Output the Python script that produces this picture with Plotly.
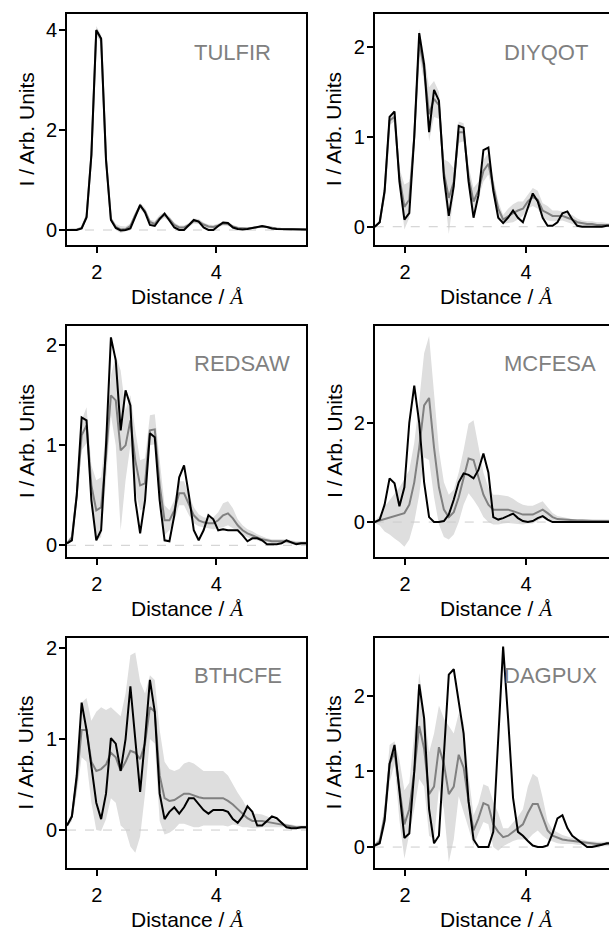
import plotly.graph_objects as go

# ---------------- data ----------------
distance = [1.500, 1.582, 1.663, 1.745, 1.827, 1.908, 1.990, 2.071, 2.153, 2.235,
            2.316, 2.398, 2.480, 2.561, 2.643, 2.724, 2.806, 2.888, 2.969, 3.051,
            3.133, 3.214, 3.296, 3.378, 3.459, 3.541, 3.622, 3.704, 3.786, 3.867,
            3.949, 4.031, 4.112, 4.194, 4.276, 4.357, 4.439, 4.520, 4.602, 4.684,
            4.765, 4.847, 4.929, 5.010, 5.092, 5.173, 5.255, 5.337, 5.418, 5.500]

names = ["TULFIR", "DIYQOT", "REDSAW", "MCFESA", "BTHCFE", "DAGPUX"]

tulfir_obs = [0.00, 0.00, 0.00, 0.03, 0.25, 1.50, 4.00, 3.83, 1.40, 0.20,
              0.04, -0.01, 0.00, 0.03, 0.25, 0.50, 0.35, 0.10, 0.08, 0.22,
              0.33, 0.20, 0.05, 0.00, 0.00, 0.10, 0.20, 0.17, 0.05, 0.00,
              0.00, 0.08, 0.15, 0.14, 0.05, 0.02, 0.01, 0.02, 0.04, 0.07,
              0.08, 0.06, 0.03, 0.02, 0.02, 0.02, 0.015, 0.01, 0.01, 0.01]
tulfir_mean = [0.00, 0.00, 0.01, 0.04, 0.27, 1.50, 3.98, 3.82, 1.42, 0.22,
               0.06, 0.01, 0.02, 0.08, 0.30, 0.48, 0.38, 0.16, 0.12, 0.24,
               0.30, 0.22, 0.10, 0.05, 0.05, 0.10, 0.18, 0.17, 0.11, 0.07,
               0.06, 0.09, 0.13, 0.12, 0.07, 0.04, 0.03, 0.03, 0.04, 0.06,
               0.07, 0.06, 0.04, 0.03, 0.02, 0.02, 0.02, 0.01, 0.01, 0.01]
tulfir_std = [0.01, 0.01, 0.01, 0.02, 0.04, 0.06, 0.10, 0.08, 0.06, 0.05,
              0.06, 0.07, 0.05, 0.05, 0.06, 0.06, 0.06, 0.05, 0.06, 0.06,
              0.06, 0.05, 0.05, 0.04, 0.04, 0.04, 0.05, 0.05, 0.04, 0.04,
              0.04, 0.04, 0.04, 0.04, 0.03, 0.03, 0.02, 0.02, 0.02, 0.02,
              0.02, 0.02, 0.02, 0.01, 0.01, 0.01, 0.01, 0.01, 0.01, 0.01]

diyqot_obs = [0.00, 0.05, 0.40, 1.22, 1.28, 0.50, 0.08, 0.15, 1.00, 2.15,
              1.80, 1.05, 1.52, 1.40, 0.55, 0.12, 0.45, 1.12, 1.10, 0.50,
              0.10, 0.35, 0.85, 0.88, 0.40, 0.10, 0.04, 0.10, 0.18, 0.10,
              0.05, 0.20, 0.37, 0.28, 0.10, 0.01, 0.01, 0.05, 0.15, 0.17,
              0.08, 0.01, 0.00, 0.00, 0.00, 0.00, 0.00, 0.01, 0.01, 0.02]
diyqot_mean = [0.00, 0.05, 0.38, 1.18, 1.22, 0.55, 0.22, 0.30, 1.00, 2.05,
               1.75, 1.25, 1.42, 1.35, 0.60, 0.32, 0.50, 1.05, 1.05, 0.55,
               0.28, 0.40, 0.62, 0.70, 0.45, 0.20, 0.08, 0.12, 0.15, 0.18,
               0.20, 0.28, 0.33, 0.30, 0.18, 0.15, 0.12, 0.12, 0.12, 0.10,
               0.08, 0.05, 0.04, 0.03, 0.03, 0.02, 0.02, 0.02, 0.02, 0.02]
diyqot_std = [0.01, 0.02, 0.05, 0.05, 0.05, 0.10, 0.25, 0.20, 0.10, 0.15,
              0.15, 0.30, 0.20, 0.15, 0.15, 0.40, 0.15, 0.12, 0.10, 0.12,
              0.15, 0.10, 0.12, 0.12, 0.10, 0.08, 0.05, 0.08, 0.10, 0.10,
              0.08, 0.08, 0.10, 0.10, 0.08, 0.08, 0.06, 0.06, 0.05, 0.05,
              0.05, 0.04, 0.03, 0.03, 0.03, 0.03, 0.03, 0.02, 0.02, 0.02]

redsaw_obs = [0.02, 0.05, 0.50, 1.28, 1.25, 0.45, 0.05, 0.15, 1.00, 2.08,
              1.85, 1.15, 1.55, 1.40, 0.45, 0.12, 0.45, 1.12, 1.08, 0.45,
              0.05, 0.04, 0.30, 0.68, 0.80, 0.50, 0.15, 0.05, 0.15, 0.30,
              0.26, 0.15, 0.16, 0.15, 0.15, 0.15, 0.10, 0.04, 0.07, 0.07,
              0.05, 0.01, 0.01, 0.01, 0.02, 0.05, 0.03, 0.01, 0.02, 0.02]
redsaw_mean = [0.02, 0.08, 0.50, 1.10, 1.20, 0.60, 0.35, 0.38, 0.90, 1.50,
               1.45, 0.95, 1.00, 1.25, 0.85, 0.60, 0.62, 1.15, 1.16, 0.60,
               0.25, 0.25, 0.35, 0.52, 0.52, 0.40, 0.30, 0.25, 0.23, 0.22,
               0.22, 0.25, 0.30, 0.32, 0.27, 0.20, 0.15, 0.12, 0.10, 0.08,
               0.06, 0.05, 0.04, 0.04, 0.04, 0.04, 0.03, 0.02, 0.02, 0.02]
redsaw_std = [0.01, 0.03, 0.08, 0.15, 0.18, 0.20, 0.30, 0.30, 0.25, 0.20,
              0.45, 0.80, 0.35, 0.25, 0.30, 0.25, 0.25, 0.15, 0.15, 0.25,
              0.15, 0.10, 0.10, 0.12, 0.12, 0.10, 0.08, 0.06, 0.05, 0.05,
              0.06, 0.08, 0.12, 0.12, 0.10, 0.06, 0.05, 0.04, 0.04, 0.03,
              0.03, 0.02, 0.02, 0.02, 0.02, 0.02, 0.02, 0.02, 0.02, 0.02]

mcfesa_obs = [0.00, 0.05, 0.35, 0.88, 0.78, 0.32, 0.70, 2.00, 2.75, 2.00,
              0.80, 0.10, 0.00, 0.00, 0.02, 0.15, 0.45, 0.80, 0.98, 0.95,
              0.88, 1.05, 1.38, 1.00, 0.10, 0.05, 0.08, 0.12, 0.17, 0.08,
              0.02, 0.00, 0.02, 0.08, 0.12, 0.05, 0.00, 0.00, 0.00, 0.00,
              0.00, 0.00, 0.00, 0.00, 0.01, 0.00, 0.00, 0.00, 0.00, 0.00]
mcfesa_mean = [0.00, 0.03, 0.06, 0.10, 0.12, 0.15, 0.18, 0.35, 0.80, 1.50,
               2.35, 2.50, 1.50, 0.70, 0.25, 0.10, 0.20, 0.50, 0.90, 1.28,
               1.25, 0.90, 0.55, 0.35, 0.25, 0.25, 0.25, 0.25, 0.22, 0.18,
               0.15, 0.15, 0.15, 0.20, 0.25, 0.18, 0.10, 0.06, 0.05, 0.04,
               0.03, 0.03, 0.03, 0.02, 0.02, 0.02, 0.02, 0.02, 0.02, 0.02]
mcfesa_std = [0.02, 0.10, 0.25, 0.35, 0.45, 0.55, 0.68, 0.70, 0.80, 0.95,
              1.05, 1.25, 1.00, 0.75, 0.55, 0.45, 0.45, 0.50, 0.55, 0.70,
              0.80, 0.60, 0.45, 0.35, 0.30, 0.30, 0.28, 0.27, 0.25, 0.22,
              0.20, 0.18, 0.18, 0.18, 0.17, 0.12, 0.08, 0.06, 0.05, 0.04,
              0.03, 0.03, 0.03, 0.03, 0.03, 0.03, 0.03, 0.03, 0.03, 0.03]

bthcfe_obs = [0.05, 0.15, 0.60, 1.40, 1.10, 0.70, 0.30, 0.12, 0.40, 1.01,
              0.95, 0.65, 1.00, 1.58, 1.00, 0.42, 1.00, 1.65, 1.30, 0.40,
              0.12, 0.20, 0.25, 0.18, 0.25, 0.35, 0.35, 0.28, 0.22, 0.18,
              0.22, 0.22, 0.22, 0.20, 0.12, 0.08, 0.15, 0.26, 0.20, 0.05,
              0.05, 0.10, 0.15, 0.13, 0.08, 0.03, 0.02, 0.02, 0.03, 0.03]
bthcfe_mean = [0.05, 0.15, 0.55, 1.10, 1.10, 0.75, 0.65, 0.67, 0.72, 0.85,
               0.80, 0.65, 0.75, 0.87, 0.85, 0.78, 0.95, 1.35, 1.30, 0.60,
               0.35, 0.32, 0.33, 0.37, 0.40, 0.40, 0.38, 0.36, 0.35, 0.35,
               0.35, 0.35, 0.35, 0.32, 0.28, 0.23, 0.18, 0.13, 0.10, 0.10,
               0.10, 0.09, 0.08, 0.07, 0.06, 0.05, 0.04, 0.03, 0.03, 0.03]
bthcfe_std = [0.02, 0.05, 0.15, 0.30, 0.35, 0.45, 0.65, 0.68, 0.60, 0.50,
              0.50, 0.60, 0.75, 1.05, 1.10, 0.85, 0.55, 0.35, 0.35, 0.50,
              0.40, 0.35, 0.32, 0.30, 0.33, 0.35, 0.35, 0.33, 0.30, 0.30,
              0.30, 0.30, 0.30, 0.28, 0.22, 0.18, 0.15, 0.10, 0.08, 0.08,
              0.07, 0.06, 0.05, 0.04, 0.03, 0.02, 0.02, 0.02, 0.02, 0.02]

dagpux_obs = [0.02, 0.05, 0.35, 1.10, 1.35, 0.70, 0.12, 0.18, 1.00, 2.15,
              1.70, 0.50, 0.05, 0.15, 1.20, 2.28, 2.35, 1.90, 1.50, 0.60,
              0.10, 0.00, 0.00, 0.00, 0.20, 1.40, 2.65, 1.70, 0.65, 0.20,
              0.15, 0.08, 0.02, 0.00, 0.00, 0.02, 0.18, 0.38, 0.42, 0.25,
              0.15, 0.10, 0.05, 0.00, 0.00, 0.01, 0.03, 0.05, 0.05, 0.05]
dagpux_mean = [0.02, 0.08, 0.40, 1.10, 1.25, 0.75, 0.30, 0.50, 1.00, 1.60,
               1.30, 0.70, 0.80, 1.32, 1.10, 0.70, 0.80, 1.22, 1.05, 0.60,
               0.22, 0.38, 0.58, 0.55, 0.30, 0.20, 0.13, 0.15, 0.20, 0.25,
               0.30, 0.45, 0.57, 0.57, 0.40, 0.22, 0.15, 0.12, 0.10, 0.09,
               0.08, 0.07, 0.06, 0.05, 0.04, 0.04, 0.04, 0.04, 0.05, 0.05]
dagpux_std = [0.02, 0.05, 0.15, 0.25, 0.15, 0.40, 0.45, 0.35, 0.50, 0.70,
              0.50, 0.55, 0.70, 0.55, 0.60, 0.90, 0.70, 0.55, 0.60, 0.35,
              0.20, 0.20, 0.25, 0.25, 0.30, 0.25, 0.12, 0.10, 0.12, 0.15,
              0.20, 0.35, 0.40, 0.35, 0.25, 0.12, 0.08, 0.07, 0.06, 0.05,
              0.04, 0.04, 0.04, 0.03, 0.03, 0.03, 0.03, 0.03, 0.03, 0.03]

observed = [tulfir_obs, diyqot_obs, redsaw_obs, mcfesa_obs, bthcfe_obs, dagpux_obs]
means = [tulfir_mean, diyqot_mean, redsaw_mean, mcfesa_mean, bthcfe_mean, dagpux_mean]
stds = [tulfir_std, diyqot_std, redsaw_std, mcfesa_std, bthcfe_std, dagpux_std]

y_ranges = [[-0.30, 4.32], [-0.203, 2.363], [-0.117, 2.199],
            [-0.704, 3.96], [-0.417, 2.116], [-0.277, 2.77]]
y_dticks = [2, 1, 1, 2, 1, 1]

# ---------------- layout geometry (pixels) ----------------
W, H = 609, 932
col_px = [(67, 306, [1.5, 5.5]), (374.75, 609, [1.5, 5.372])]
col_center_px = [186.5, 496.0]
row_px = [(14, 245), (325.5, 557), (637.5, 868)]

FONT = "Liberation Sans"
GRAY = "#808080"

fig = go.Figure()
annotations = []
layout = {}

for i in range(6):
    r, c = divmod(i, 2)
    n = i + 1
    xa = "x" if n == 1 else f"x{n}"
    ya = "y" if n == 1 else f"y{n}"
    xkey = "xaxis" if n == 1 else f"xaxis{n}"
    ykey = "yaxis" if n == 1 else f"yaxis{n}"

    mean, std, obs = means[i], stds[i], observed[i]
    upper = [m + s for m, s in zip(mean, std)]
    lower = [m - s for m, s in zip(mean, std)]

    fig.add_trace(go.Scatter(x=distance + distance[::-1], y=upper + lower[::-1],
                             fill="toself", fillcolor="#dedede", mode="lines",
                             line=dict(width=0, color="#dedede"),
                             xaxis=xa, yaxis=ya, showlegend=False, hoverinfo="skip"))
    fig.add_trace(go.Scatter(x=distance, y=[0] * len(distance), mode="lines",
                             line=dict(color="#cccccc", width=1, dash="dash"),
                             xaxis=xa, yaxis=ya, showlegend=False, hoverinfo="skip"))
    fig.add_trace(go.Scatter(x=distance, y=mean, mode="lines",
                             line=dict(color=GRAY, width=2),
                             xaxis=xa, yaxis=ya, showlegend=False))
    fig.add_trace(go.Scatter(x=distance, y=obs, mode="lines",
                             line=dict(color="black", width=2),
                             xaxis=xa, yaxis=ya, showlegend=False))

    x0, x1, xr = col_px[c]
    top, bot = row_px[r]
    common = dict(showgrid=False, zeroline=False, showline=True, linecolor="black",
                  linewidth=2, ticks="outside", ticklen=6, tickwidth=1.5,
                  tickcolor="black", tickfont=dict(family=FONT, size=20, color="black"))
    layout[xkey] = dict(domain=[x0 / W, x1 / W], range=xr, anchor=ya,
                        tickmode="linear", tick0=2, dtick=2, mirror=True,
                        ticklabelstandoff=2, **common)
    layout[ykey] = dict(domain=[1 - bot / H, 1 - top / H], range=y_ranges[i], anchor=xa,
                        tickmode="linear", tick0=0, dtick=y_dticks[i],
                        mirror=(c == 0), ticklabelstandoff=-2, **common)

    # panel name
    annotations.append(dict(text=names[i], xref=xa, yref=f"{ya} domain", x=3.6, y=0.835,
                            xanchor="left", yanchor="middle", showarrow=False,
                            font=dict(family=FONT, size=22, color=GRAY)))
    # x-axis title
    annotations.append(dict(text="Distance / <span style=\"font-family:'Liberation Serif'\"><i>Å</i></span>",
                            xref="paper", yref="paper",
                            x=col_center_px[c] / W, y=1 - (bot + 52) / H,
                            xanchor="center", yanchor="middle", showarrow=False,
                            font=dict(family=FONT, size=21, color="black")))
    # y-axis title
    annotations.append(dict(text="I / Arb. Units", xref="paper", yref="paper",
                            x=(x0 - 41) / W, y=1 - (top + bot) / 2 / H,
                            xanchor="center", yanchor="middle", showarrow=False,
                            textangle=-90,
                            font=dict(family=FONT, size=21, color="black")))

fig.update_layout(width=W, height=H, margin=dict(l=0, r=0, t=0, b=0),
                  paper_bgcolor="white", plot_bgcolor="white",
                  annotations=annotations, **layout)

fig.write_html("out.html")
